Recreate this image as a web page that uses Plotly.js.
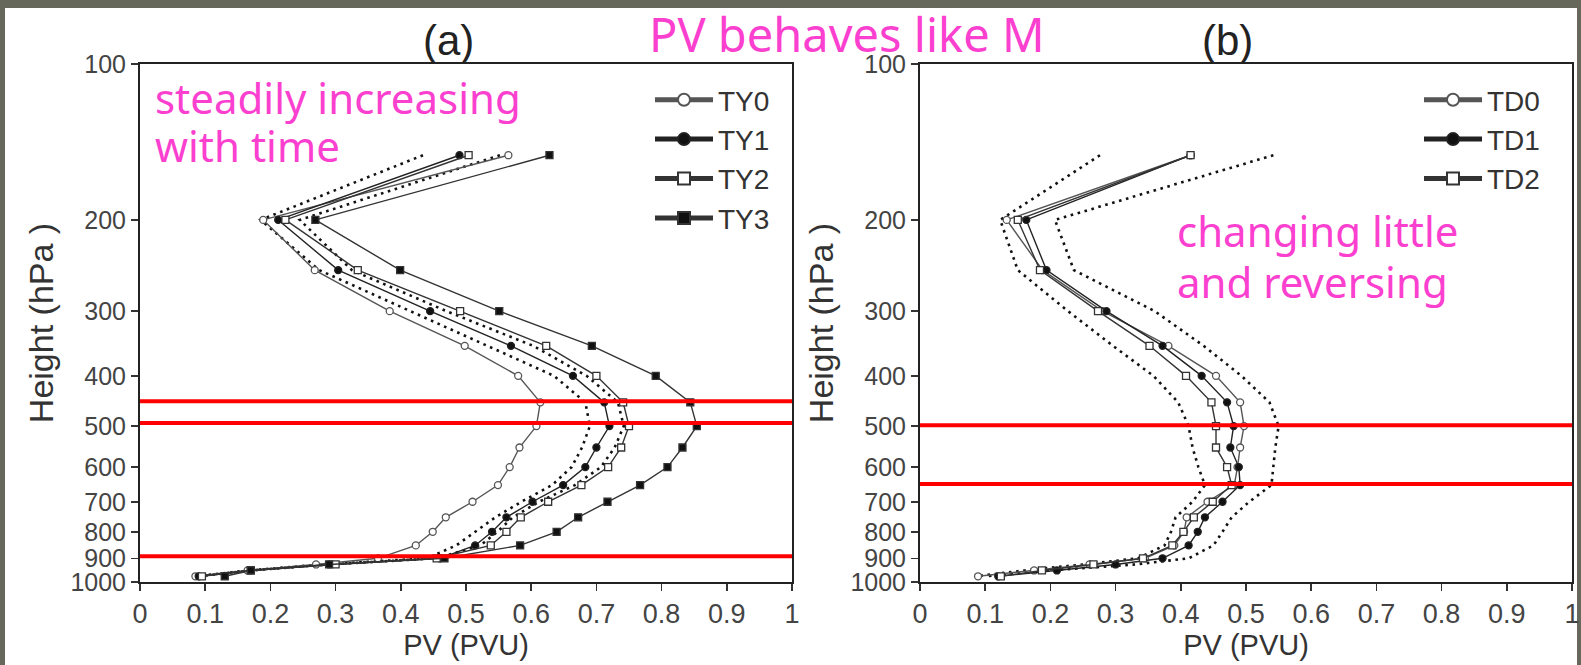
<!DOCTYPE html>
<html>
<head>
<meta charset="utf-8">
<script src="https://cdn.plot.ly/plotly-3.0.1.min.js"></script>
<style>html,body{margin:0;padding:0;background:#66685c;}#chart{width:1581px;height:665px;}</style>
</head>
<body>
<div id="chart"></div>
<script>
// Pressure levels (hPa)
const levels = [150,200,250,300,350,400,450,500,550,600,650,700,750,800,850,900,925,950,975];

// Panel (a) series (PVU)
const TY0 = [0.565,0.189,0.268,0.383,0.498,0.580,0.614,0.608,0.582,0.567,0.549,0.510,0.469,0.449,0.423,0.365,0.270,0.165,0.085];
const TY1 = [0.490,0.212,0.304,0.445,0.569,0.664,0.712,0.720,0.700,0.683,0.649,0.602,0.562,0.540,0.514,0.460,0.290,0.170,0.090];
const TY2 = [0.504,0.223,0.334,0.491,0.623,0.700,0.741,0.750,0.738,0.718,0.677,0.626,0.584,0.562,0.538,0.455,0.300,0.170,0.095];
const TY3 = [0.628,0.269,0.399,0.551,0.693,0.791,0.844,0.854,0.832,0.809,0.767,0.717,0.672,0.639,0.583,0.467,0.290,0.170,0.130];
const dotA1 = [0.434,0.185,0.275,0.415,0.532,0.635,0.683,0.690,0.678,0.662,0.632,0.585,0.545,0.515,0.485,0.440,0.280,0.165,0.085];
const dotA2 = [0.552,0.245,0.325,0.470,0.603,0.685,0.733,0.742,0.728,0.707,0.667,0.612,0.572,0.548,0.522,0.455,0.290,0.170,0.090];

// Panel (b) series (PVU)
const TD0 = [0.415,0.133,0.188,0.280,0.381,0.454,0.491,0.497,0.491,0.487,0.482,0.441,0.409,0.405,0.390,0.345,0.260,0.175,0.089];
const TD1 = [0.415,0.163,0.194,0.286,0.372,0.432,0.471,0.481,0.476,0.489,0.491,0.464,0.437,0.426,0.412,0.372,0.300,0.210,0.120];
const TD2 = [0.415,0.150,0.184,0.273,0.352,0.408,0.447,0.454,0.454,0.471,0.478,0.449,0.420,0.404,0.387,0.342,0.266,0.187,0.124];
const dotB1 = [0.276,0.123,0.150,0.227,0.296,0.358,0.396,0.412,0.418,0.427,0.437,0.418,0.392,0.385,0.375,0.334,0.250,0.160,0.085];
const dotB2 = [0.542,0.207,0.236,0.360,0.435,0.493,0.536,0.550,0.545,0.542,0.539,0.505,0.478,0.464,0.450,0.412,0.330,0.200,0.100];

// Highlight levels (hPa)
const redA = [448, 493, 892];
const redB = [498, 647];

// Ticks
const xTickVals = [0,0.1,0.2,0.3,0.4,0.5,0.6,0.7,0.8,0.9,1];
const xTickText = ['0','0.1','0.2','0.3','0.4','0.5','0.6','0.7','0.8','0.9','1'];
const yTickVals = [100,200,300,400,500,600,700,800,900,1000];
const yTickText = ['100','200','300','400','500','600','700','800','900','1000'];

const FONT = 'Liberation Sans, Arial, Helvetica, sans-serif';
const HAND = 'Noto Sans, DejaVu Sans, sans-serif';
const MAG = '#fb40d0';
const W = 1581, H = 665;
const px = v => v / W;
const py = v => 1 - v / H;

function series(x, name, symbol, fill, color, xa, ya, leg) {
  return {
    x: x, y: levels, name: name, type: 'scatter', mode: 'lines+markers',
    xaxis: xa, yaxis: ya, legend: leg,
    line: {color: color, width: 1.4},
    marker: {symbol: symbol, size: 7, color: fill, line: {color: color, width: 1.3}},
    cliponaxis: false
  };
}
function dotted(x, xa, ya) {
  return {
    x: x, y: levels, type: 'scatter', mode: 'lines', showlegend: false, hoverinfo: 'skip',
    xaxis: xa, yaxis: ya,
    line: {color: '#111', width: 2.6, dash: '2.6px,4.6px'}
  };
}
function redLine(p, xa, ya) {
  return {
    x: [0, 1], y: [p, p], type: 'scatter', mode: 'lines', showlegend: false, hoverinfo: 'skip',
    xaxis: xa, yaxis: ya, cliponaxis: false,
    line: {color: '#ff0000', width: 4}
  };
}

const traces = [
  dotted(dotA1, 'x', 'y'),
  dotted(dotA2, 'x', 'y'),
  series(TY0, 'TY0', 'circle', 'white', '#555', 'x', 'y', 'legend'),
  series(TY1, 'TY1', 'circle', '#111', '#222', 'x', 'y', 'legend'),
  series(TY2, 'TY2', 'square', 'white', '#333', 'x', 'y', 'legend'),
  series(TY3, 'TY3', 'square', '#111', '#333', 'x', 'y', 'legend'),
  dotted(dotB1, 'x2', 'y2'),
  dotted(dotB2, 'x2', 'y2'),
  series(TD0, 'TD0', 'circle', 'white', '#555', 'x2', 'y2', 'legend2'),
  series(TD1, 'TD1', 'circle', '#111', '#222', 'x2', 'y2', 'legend2'),
  series(TD2, 'TD2', 'square', 'white', '#333', 'x2', 'y2', 'legend2')
];
redA.forEach(p => traces.push(redLine(p, 'x', 'y')));
redB.forEach(p => traces.push(redLine(p, 'x2', 'y2')));

function xAxis(dom, anchor) {
  return {
    domain: dom, anchor: anchor, range: [0, 1], tickvals: xTickVals, ticktext: xTickText,
    ticks: 'outside', ticklen: 7, tickwidth: 1.5, tickcolor: '#333',
    showline: true, mirror: true, linewidth: 2, linecolor: '#222',
    showgrid: false, zeroline: false,
    tickfont: {family: FONT, size: 27, color: '#444'},
    title: {text: 'PV (PVU)', font: {family: FONT, size: 29, color: '#333'}, standoff: 2}
  };
}
function yAxis(anchor) {
  return {
    domain: [py(582), py(64)], anchor: anchor, type: 'log', range: [3, 2],
    tickvals: yTickVals, ticktext: yTickText,
    ticks: 'outside', ticklen: 7, tickwidth: 1.5, tickcolor: '#333',
    showline: true, mirror: true, linewidth: 2, linecolor: '#222',
    showgrid: false, zeroline: false,
    tickfont: {family: FONT, size: 25, color: '#444'},
    title: {text: 'Height (hPa )', font: {family: FONT, size: 34, color: '#333'}, standoff: 6}
  };
}
function legendCfg(xpx) {
  return {
    x: px(xpx), xanchor: 'left', y: py(75), yanchor: 'top',
    bgcolor: 'rgba(0,0,0,0)', borderwidth: 0,
    font: {family: FONT, size: 28, color: '#333'},
    itemwidth: 58, itemsizing: 'constant', tracegroupgap: 0
  };
}

const annotations = [
  {text: '(a)', x: px(448), y: py(41), xref: 'paper', yref: 'paper', showarrow: false,
   xanchor: 'center', yanchor: 'middle', font: {family: FONT, size: 42, color: '#222'}},
  {text: '(b)', x: px(1227), y: py(41), xref: 'paper', yref: 'paper', showarrow: false,
   xanchor: 'center', yanchor: 'middle', font: {family: FONT, size: 42, color: '#222'}},
  {text: 'PV behaves like M', x: px(847), y: py(34), xref: 'paper', yref: 'paper', showarrow: false,
   xanchor: 'center', yanchor: 'middle', font: {family: HAND, size: 47, color: MAG}},
  {text: 'steadily increasing', x: px(153), y: py(97), xref: 'paper', yref: 'paper', showarrow: false,
   xanchor: 'left', yanchor: 'middle', font: {family: HAND, size: 42, color: MAG}},
  {text: 'with time', x: px(153), y: py(145), xref: 'paper', yref: 'paper', showarrow: false,
   xanchor: 'left', yanchor: 'middle', font: {family: HAND, size: 42, color: MAG}},
  {text: 'changing little', x: px(1175), y: py(231), xref: 'paper', yref: 'paper', showarrow: false,
   xanchor: 'left', yanchor: 'middle', font: {family: HAND, size: 42, color: MAG}},
  {text: 'and reversing', x: px(1175), y: py(281), xref: 'paper', yref: 'paper', showarrow: false,
   xanchor: 'left', yanchor: 'middle', font: {family: HAND, size: 42, color: MAG}}
];

const layout = {
  width: W, height: H,
  margin: {l: 0, r: 0, t: 0, b: 0, pad: 0},
  paper_bgcolor: '#66685c', plot_bgcolor: 'white',
  font: {family: FONT, color: '#333'},
  showlegend: true,
  xaxis: xAxis([px(140), px(792)], 'y'),
  yaxis: yAxis('x'),
  xaxis2: xAxis([px(920), px(1572)], 'y2'),
  yaxis2: yAxis('x2'),
  legend: legendCfg(650),
  legend2: legendCfg(1419),
  shapes: [
    {type: 'rect', xref: 'paper', yref: 'paper', x0: px(5), x1: px(1577), y0: 0, y1: py(8),
     fillcolor: 'white', line: {width: 0}, layer: 'below'}
  ],
  annotations: annotations
};

Plotly.newPlot('chart', traces, layout, {displayModeBar: false, staticPlot: true});
</script>
</body>
</html>
